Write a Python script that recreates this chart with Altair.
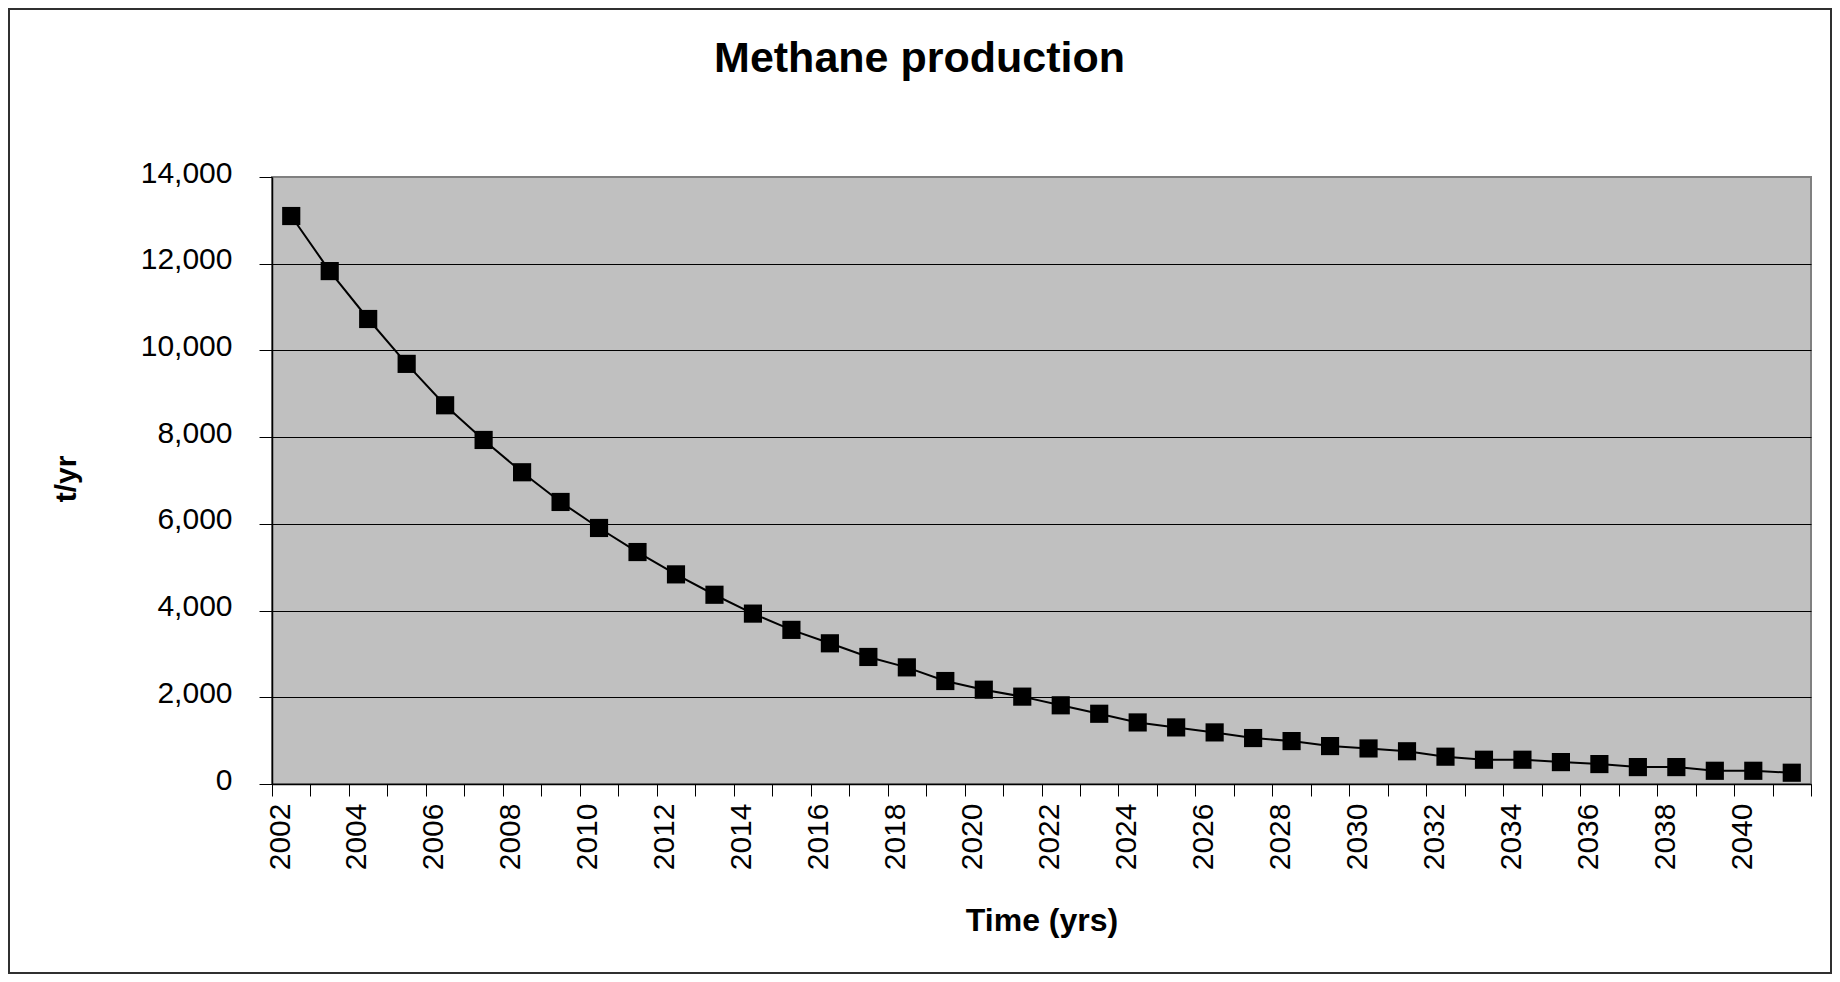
import altair as alt
import pandas as pd

years = list(range(2002, 2042))
methane = [13100, 11830, 10725, 9690, 8735, 7935, 7190, 6505, 5905, 5350,
           4835, 4365, 3930, 3555, 3245, 2930, 2690, 2375, 2175, 2015,
           1815, 1620, 1420, 1305, 1190, 1060, 990, 875, 820, 755,
           630, 560, 560, 505, 460, 390, 390, 305, 305, 260]
y_ticks = [0, 2000, 4000, 6000, 8000, 10000, 12000, 14000]

title_text = "Methane production"
x_title = "Time (yrs)"
y_title = "t/yr"

# category boundaries (ticks sit between years, like an Excel category axis)
x_bounds = [y - 0.5 for y in years] + [years[-1] + 0.5]

df = pd.DataFrame({"year": years, "value": methane})

FONT = "Liberation Sans"
W, H = 1539, 607
PAD = {"left": 264, "top": 169, "right": 21, "bottom": 190}

x_enc = alt.X(
    "year:Q",
    scale=alt.Scale(domain=[x_bounds[0], x_bounds[-1]], nice=False, zero=False),
    axis=alt.Axis(
        values=x_bounds,
        labelExpr=f"((datum.value + 0.5) % 2 == 0 && datum.value + 0.5 <= {years[-1]}) ? format(datum.value + 0.5, 'd') : ''",
        labelAngle=270,
        labelAlign="right",
        labelBaseline="middle",
        labelOffset=8,
        labelPadding=7,
        labelFlush=False,
        labelOverlap=False,
        labelBound=False,
        labelFont=FONT,
        labelFontSize=30,
        labelColor="black",
        tickSize=12,
        tickColor="black",
        tickWidth=1,
        domainColor="black",
        domainWidth=1.5,
        grid=False,
        title=x_title,
        titleFont=FONT,
        titleFontSize=32,
        titleFontWeight="bold",
        titleColor="black",
        titleX=W / 2,
        titleY=146,
        titleAlign="center",
        titleBaseline="alphabetic",
    ),
)

y_enc = alt.Y(
    "value:Q",
    scale=alt.Scale(domain=[0, 14000], nice=False),
    axis=alt.Axis(
        values=y_ticks,
        format=",d",
        labelFont=FONT,
        labelFontSize=30,
        labelColor="black",
        labelPadding=27,
        labelOffset=-4,
        tickSize=13,
        tickColor="black",
        tickWidth=1,
        domainColor="black",
        domainWidth=1.5,
        grid=True,
        gridColor={"condition": {"test": "datum.value === 14000", "value": "#808080"}, "value": "black"},
        gridWidth=1,
        title=y_title,
        titleFont=FONT,
        titleFontSize=30,
        titleFontWeight="bold",
        titleColor="black",
        titleAngle=270,
        titleX=-206,
        titleY=H / 2 - 2,
        titleAlign="center",
        titleBaseline="middle",
    ),
)

base = alt.Chart(df)
line = base.mark_line(color="black", strokeWidth=2).encode(x=x_enc, y=y_enc)
points = base.mark_point(shape="square", filled=True, size=330, color="black", opacity=1).encode(x=x_enc, y=y_enc)

frame = alt.Chart(pd.DataFrame({"f": [0]})).mark_rect(
    fill="transparent", stroke="#303030", strokeWidth=2
).encode(
    x=alt.value(-PAD["left"] + 1), x2=alt.value(W + PAD["right"] - 1),
    y=alt.value(-PAD["top"] + 1), y2=alt.value(H + PAD["bottom"] - 1),
)

chart = alt.layer(frame, line, points).properties(
    width=W,
    height=H,
    autosize=alt.AutoSizeParams(type="none"),
    padding=PAD,
    background="white",
    title=alt.Title(
        title_text,
        font=FONT,
        fontSize=43,
        fontWeight="bold",
        color="black",
        anchor="middle",
        frame="group",
        dx=-122,
        offset=-107,
        baseline="alphabetic",
    ),
).configure_view(
    fill="#C0C0C0", stroke="#808080", strokeWidth=2
)

chart.save("out.html", embed_options={"renderer": "svg", "actions": False})
